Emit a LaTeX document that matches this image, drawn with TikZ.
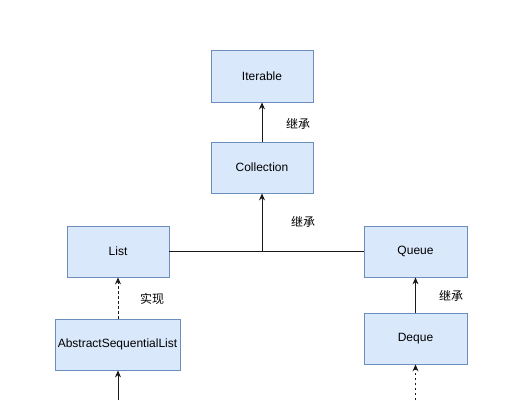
\documentclass[tikz,border=0pt]{standalone}
\usepackage{fontspec}
\setmainfont{Liberation Sans}
\newfontfamily\cjk{Noto Sans CJK SC}
\usetikzlibrary{arrows.meta}
\definecolor{boxfill}{HTML}{DAE8FC}
\definecolor{boxdraw}{HTML}{6C8EBF}
\definecolor{linec}{HTML}{1A1A1A}
\tikzset{
  cls/.style={draw=boxdraw,fill=boxfill,line width=0.8pt,inner sep=0pt,font=\fontsize{12}{14}\selectfont,text=black},
  inh/.style={draw=linec,line width=0.9pt,-{Stealth[length=7pt,width=6pt]}},
  impl/.style={inh,dash pattern=on 2.5pt off 2.5pt},
  lbl/.style={font=\cjk\fontsize{12}{14}\selectfont,text=black}
}
\begin{document}
\begin{tikzpicture}[x=1pt,y=-1pt]
\useasboundingbox[fill=white] (0,0) rectangle (510,400);
\node[cls,minimum width=102pt,minimum height=52pt] (iter) at (262,76) {Iterable};
\node[cls,minimum width=102pt,minimum height=51pt] (coll) at (262,167.5) {Collection};
\node[cls,minimum width=102pt,minimum height=51pt] (list) at (118,251.5) {List};
\node[cls,minimum width=103pt,minimum height=51pt] (queue) at (415.5,251.5) {Queue};
\node[cls,minimum width=125pt,minimum height=51pt] (asl) at (117.5,344.5) {AbstractSequentialList};
\node[cls,minimum width=103pt,minimum height=51pt] (deque) at (415.5,338.5) {Deque};
\coordinate (j) at (262,251.5);
\coordinate (aslin) at (118,400);
\coordinate (dqin) at (415.5,400);
\draw[draw=linec,line width=0.9pt] (list.east) -- (queue.west);
\draw[inh] (coll.north) -- (iter.south);
\draw[inh] (j) -- (coll.south);
\draw[impl] (asl.north -| list.south) -- (list.south);
\draw[inh] (deque.north) -- (queue.south);
\draw[inh] (aslin) -- (aslin |- asl.south);
\draw[impl] (dqin) -- (deque.south);
\node[lbl] (l1) at (298,124) {继承};
\node[lbl] (l2) at (303,222) {继承};
\node[lbl] (l3) at (152,299) {实现};
\node[lbl] (l4) at (451,296) {继承};
\end{tikzpicture}
\end{document}
